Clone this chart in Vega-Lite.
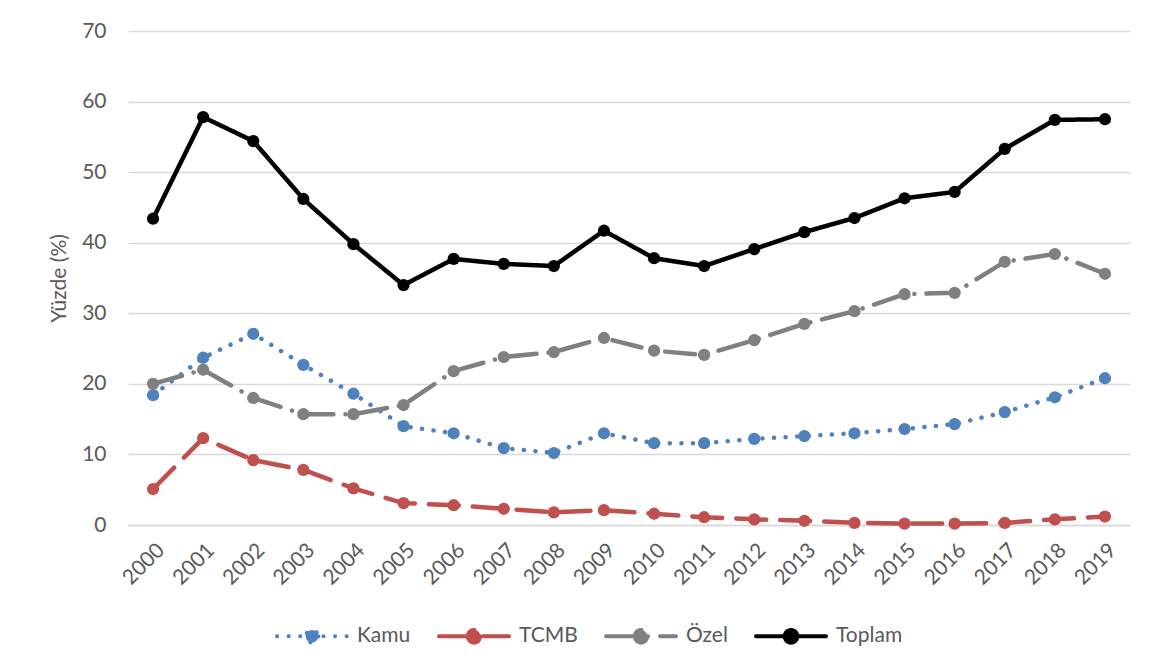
{
  "$schema": "https://vega.github.io/schema/vega-lite/v6.json",
  "autosize": {"type": "none"},
  "width": 1002,
  "height": 494,
  "padding": {"left": 128, "top": 31, "right": 23, "bottom": 147},
  "background": "white",
  "config": {
    "view": {"stroke": null},
    "font": "Lato"
  },
  "data": {
    "values": [
      {"year": "2000", "series": "Kamu", "value": 18.4},
      {"year": "2001", "series": "Kamu", "value": 23.7},
      {"year": "2002", "series": "Kamu", "value": 27.1},
      {"year": "2003", "series": "Kamu", "value": 22.7},
      {"year": "2004", "series": "Kamu", "value": 18.6},
      {"year": "2005", "series": "Kamu", "value": 14.0},
      {"year": "2006", "series": "Kamu", "value": 13.0},
      {"year": "2007", "series": "Kamu", "value": 10.9},
      {"year": "2008", "series": "Kamu", "value": 10.2},
      {"year": "2009", "series": "Kamu", "value": 13.0},
      {"year": "2010", "series": "Kamu", "value": 11.6},
      {"year": "2011", "series": "Kamu", "value": 11.6},
      {"year": "2012", "series": "Kamu", "value": 12.2},
      {"year": "2013", "series": "Kamu", "value": 12.6},
      {"year": "2014", "series": "Kamu", "value": 13.0},
      {"year": "2015", "series": "Kamu", "value": 13.6},
      {"year": "2016", "series": "Kamu", "value": 14.3},
      {"year": "2017", "series": "Kamu", "value": 16.0},
      {"year": "2018", "series": "Kamu", "value": 18.1},
      {"year": "2019", "series": "Kamu", "value": 20.8},
      {"year": "2000", "series": "TCMB", "value": 5.1},
      {"year": "2001", "series": "TCMB", "value": 12.3},
      {"year": "2002", "series": "TCMB", "value": 9.2},
      {"year": "2003", "series": "TCMB", "value": 7.8},
      {"year": "2004", "series": "TCMB", "value": 5.2},
      {"year": "2005", "series": "TCMB", "value": 3.1},
      {"year": "2006", "series": "TCMB", "value": 2.8},
      {"year": "2007", "series": "TCMB", "value": 2.3},
      {"year": "2008", "series": "TCMB", "value": 1.8},
      {"year": "2009", "series": "TCMB", "value": 2.1},
      {"year": "2010", "series": "TCMB", "value": 1.6},
      {"year": "2011", "series": "TCMB", "value": 1.1},
      {"year": "2012", "series": "TCMB", "value": 0.8},
      {"year": "2013", "series": "TCMB", "value": 0.6},
      {"year": "2014", "series": "TCMB", "value": 0.3},
      {"year": "2015", "series": "TCMB", "value": 0.2},
      {"year": "2016", "series": "TCMB", "value": 0.2},
      {"year": "2017", "series": "TCMB", "value": 0.3},
      {"year": "2018", "series": "TCMB", "value": 0.8},
      {"year": "2019", "series": "TCMB", "value": 1.2},
      {"year": "2000", "series": "Özel", "value": 20.0},
      {"year": "2001", "series": "Özel", "value": 22.0},
      {"year": "2002", "series": "Özel", "value": 18.0},
      {"year": "2003", "series": "Özel", "value": 15.7},
      {"year": "2004", "series": "Özel", "value": 15.7},
      {"year": "2005", "series": "Özel", "value": 17.0},
      {"year": "2006", "series": "Özel", "value": 21.8},
      {"year": "2007", "series": "Özel", "value": 23.8},
      {"year": "2008", "series": "Özel", "value": 24.5},
      {"year": "2009", "series": "Özel", "value": 26.5},
      {"year": "2010", "series": "Özel", "value": 24.7},
      {"year": "2011", "series": "Özel", "value": 24.1},
      {"year": "2012", "series": "Özel", "value": 26.2},
      {"year": "2013", "series": "Özel", "value": 28.5},
      {"year": "2014", "series": "Özel", "value": 30.3},
      {"year": "2015", "series": "Özel", "value": 32.7},
      {"year": "2016", "series": "Özel", "value": 32.9},
      {"year": "2017", "series": "Özel", "value": 37.3},
      {"year": "2018", "series": "Özel", "value": 38.4},
      {"year": "2019", "series": "Özel", "value": 35.6},
      {"year": "2000", "series": "Toplam", "value": 43.4},
      {"year": "2001", "series": "Toplam", "value": 57.8},
      {"year": "2002", "series": "Toplam", "value": 54.4},
      {"year": "2003", "series": "Toplam", "value": 46.2},
      {"year": "2004", "series": "Toplam", "value": 39.8},
      {"year": "2005", "series": "Toplam", "value": 34.0},
      {"year": "2006", "series": "Toplam", "value": 37.7},
      {"year": "2007", "series": "Toplam", "value": 37.0},
      {"year": "2008", "series": "Toplam", "value": 36.7},
      {"year": "2009", "series": "Toplam", "value": 41.7},
      {"year": "2010", "series": "Toplam", "value": 37.8},
      {"year": "2011", "series": "Toplam", "value": 36.7},
      {"year": "2012", "series": "Toplam", "value": 39.1},
      {"year": "2013", "series": "Toplam", "value": 41.5},
      {"year": "2014", "series": "Toplam", "value": 43.5},
      {"year": "2015", "series": "Toplam", "value": 46.3},
      {"year": "2016", "series": "Toplam", "value": 47.2},
      {"year": "2017", "series": "Toplam", "value": 53.3},
      {"year": "2018", "series": "Toplam", "value": 57.4},
      {"year": "2019", "series": "Toplam", "value": 57.5}
    ]
  },
  "encoding": {
    "x": {
      "field": "year", "type": "ordinal",
      "scale": {"type": "point", "padding": 0.5},
      "axis": {"title": null, "labelAngle": -45, "ticks": false, "domainColor": "#d9d9d9", "domainWidth": 1.5, "labelPadding": 14, "grid": false, "labelFont": "Lato", "labelFontSize": 21, "labelColor": "#595959"}
    },
    "y": {
      "field": "value", "type": "quantitative",
      "scale": {"domain": [0, 70], "nice": false},
      "axis": {"title": "Yüzde (%)", "values": [0, 10, 20, 30, 40, 50, 60, 70], "ticks": false, "domain": false, "gridColor": "#d9d9d9", "gridWidth": 1.5, "labelPadding": 22, "titlePadding": 12, "labelFont": "Lato", "labelFontSize": 21, "labelColor": "#595959", "titleFont": "Lato", "titleFontSize": 21, "titleFontWeight": "normal", "titleColor": "#595959"}
    },
    "color": {
      "field": "series", "type": "nominal",
      "scale": {"domain": ["Kamu", "TCMB", "Özel", "Toplam"], "range": ["#4F81BD", "#C0504D", "#808080", "#000000"]},
      "legend": {
        "title": null, "orient": "none", "legendX": 147, "legendY": 568, "direction": "horizontal", "columns": 4,
        "symbolType": "M-1,0H1M0.18,0A0.18,0.18,0,1,1,-0.18,0A0.18,0.18,0,1,1,0.18,0Z",
        "symbolSize": 4900, "symbolStrokeWidth": 4, "labelOffset": 8, "columnPadding": 20, "padding": 0,
        "labelFont": "Lato", "labelFontSize": 21, "labelColor": "#595959",
        "encode": {"symbols": {"update": {"fill": {"scale": "color", "field": "value"}, "strokeCap": {"value": "round"}}}}
      }
    },
    "strokeDash": {
      "field": "series", "type": "nominal",
      "scale": {"domain": ["Kamu", "TCMB", "Özel", "Toplam"], "range": [[0.1, 11.5], [30, 14], [30, 12, 0.1, 12], [1, 0]]},
      "legend": {
        "title": null, "orient": "none", "legendX": 147, "legendY": 568, "direction": "horizontal", "columns": 4,
        "symbolType": "M-1,0H1M0.18,0A0.18,0.18,0,1,1,-0.18,0A0.18,0.18,0,1,1,0.18,0Z",
        "symbolSize": 4900, "symbolStrokeWidth": 4, "labelOffset": 8, "columnPadding": 20, "padding": 0,
        "labelFont": "Lato", "labelFontSize": 21, "labelColor": "#595959",
        "encode": {"symbols": {"update": {"fill": {"scale": "color", "field": "value"}, "strokeCap": {"value": "round"}}}}
      }
    }
  },
  "layer": [
    {"mark": {"type": "line", "strokeWidth": 4.5, "strokeCap": "round", "strokeJoin": "round"}},
    {"mark": {"type": "point", "filled": true, "size": 150, "opacity": 1, "shape": "circle"}, "encoding": {"strokeDash": {"value": [1, 0]}}}
  ]
}
